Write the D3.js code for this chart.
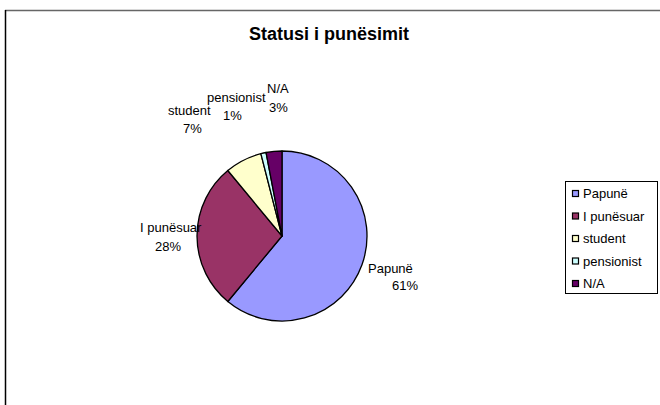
<!DOCTYPE html>
<html>
<head>
<meta charset="utf-8">
<script src="https://d3js.org/d3.v7.min.js"></script>
<style>
    body { margin: 0; background: #fff; }
    text { font-family: "Liberation Sans", Arial, sans-serif; fill: #000; }
    .lbl { font-size: 13px; }
    .title { font-size: 18px; font-weight: bold; }
</style>
</head>
<body>
<script>
    // data
    var categories = ["Papunë", "I punësuar", "student", "pensionist", "N/A"];
    var values = [61, 28, 7, 1, 3];
    var colors = ["#9999FF", "#993366", "#FFFFCC", "#CCFFFF", "#660066"];
    // label anchor points (start x, baseline y of first line) for each slice label
    var labelPos = [
        [[368, 273], [392, 290]],
        [[140, 232], [155, 251]],
        [[168, 115], [183, 133]],
        [[207, 102], [223, 120]],
        [[267, 93], [269, 112]]
    ];

    var width = 660, height = 405;
    var svg = d3.select("body").append("svg")
        .attr("width", width)
        .attr("height", height);

    // chart area border (cropped at right/bottom)
    svg.append("line").attr("x1", 5).attr("y1", 10.5).attr("x2", 660).attr("y2", 10.5)
        .attr("stroke", "#666").attr("stroke-width", 1.5);
    svg.append("line").attr("x1", 5.5).attr("y1", 10).attr("x2", 5.5).attr("y2", 405)
        .attr("stroke", "#000").attr("stroke-width", 1.5);

    svg.append("text")
        .attr("class", "title")
        .attr("x", 329)
        .attr("y", 40)
        .attr("text-anchor", "middle")
        .text("Statusi i punësimit");

    var cx = 282, cy = 236, r = 85;
    var pie = d3.pie().sort(null).value(function (d) { return d; });
    var arc = d3.arc().innerRadius(0).outerRadius(r);
    var color = d3.scaleOrdinal().domain(categories).range(colors);
    var total = d3.sum(values);

    var g = svg.append("g").attr("transform", "translate(" + cx + "," + cy + ")");
    g.selectAll("path")
        .data(pie(values))
        .enter()
        .append("path")
        .attr("d", arc)
        .attr("fill", function (d, i) { return color(categories[i]); })
        .attr("stroke", "#000")
        .attr("stroke-width", 1.3)
        .attr("stroke-linejoin", "round");

    // slice labels: name + percent
    var labels = svg.append("g");
    categories.forEach(function (c, i) {
        labels.append("text").attr("class", "lbl")
            .attr("x", labelPos[i][0][0]).attr("y", labelPos[i][0][1])
            .text(c);
        labels.append("text").attr("class", "lbl")
            .attr("x", labelPos[i][1][0]).attr("y", labelPos[i][1][1])
            .text(Math.round(values[i] / total * 100) + "%");
    });

    // legend
    var legend = svg.append("g").attr("transform", "translate(565,181)");
    legend.append("rect")
        .attr("x", 0.5).attr("y", 0.5)
        .attr("width", 92).attr("height", 112)
        .attr("fill", "#fff").attr("stroke", "#000");
    var items = legend.selectAll(".item")
        .data(categories)
        .enter()
        .append("g")
        .attr("transform", function (d, i) { return "translate(0," + (i * 22.5) + ")"; });
    items.append("rect")
        .attr("x", 7.5).attr("y", 9.5)
        .attr("width", 6).attr("height", 6)
        .attr("fill", function (d) { return color(d); })
        .attr("stroke", "#000")
        .attr("stroke-width", 1.2);
    items.append("text").attr("class", "lbl")
        .attr("x", 18).attr("y", 17)
        .text(function (d) { return d; });
</script>
</body>
</html>
